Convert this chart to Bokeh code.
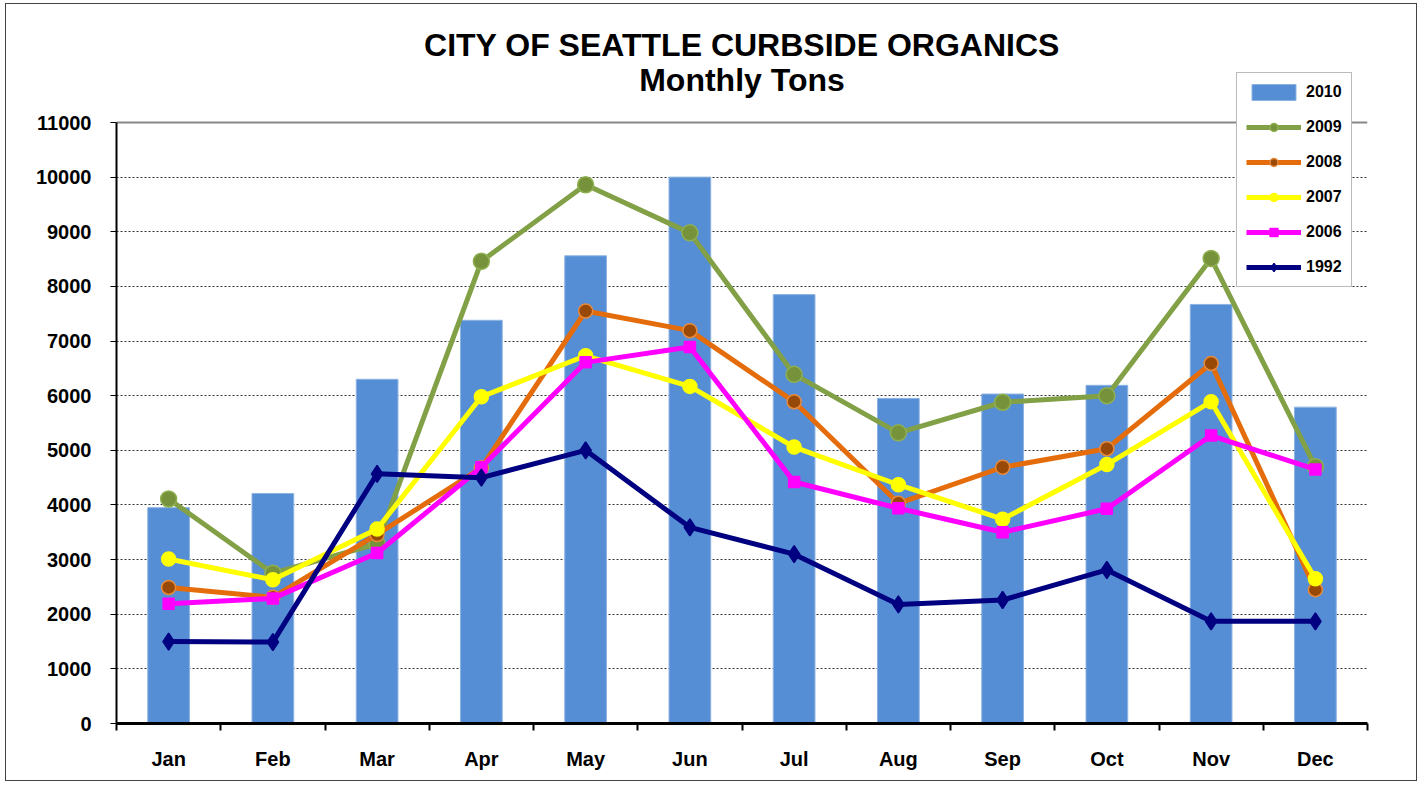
from bokeh.plotting import figure
from bokeh.models import (Range1d, FixedTicker, Legend, LegendItem, ColumnDataSource,
                          Grid, Label)
from bokeh.embed import file_html
from bokeh.resources import INLINE

months = ["Jan", "Feb", "Mar", "Apr", "May", "Jun", "Jul", "Aug", "Sep", "Oct", "Nov", "Dec"]
tons_2010 = [3950, 4210, 6300, 7380, 8560, 10000, 7850, 5950, 6030, 6190, 7670, 5790]
tons_2009 = [4110, 2750, 3290, 8460, 9860, 8980, 6390, 5320, 5880, 6000, 8510, 4700]
tons_2008 = [2490, 2310, 3460, 4680, 7550, 7190, 5890, 4030, 4690, 5030, 6590, 2450]
tons_2007 = [3010, 2630, 3560, 5980, 6730, 6170, 5060, 4370, 3740, 4740, 5890, 2650]
tons_2006 = [2190, 2290, 3120, 4690, 6610, 6890, 4420, 3940, 3500, 3930, 5270, 4650]
tons_1992 = [1500, 1490, 4570, 4500, 5000, 3590, 3100, 2180, 2260, 2810, 1870, 1870]
y_ticks = list(range(0, 11001, 1000))
y_max = 11000
title_lines = ["CITY OF SEATTLE CURBSIDE ORGANICS", "Monthly Tons"]

FONT = "Liberation Sans"
xpos = [i + 0.5 for i in range(len(months))]

# layout (pixels)
FRAME_W, FRAME_H, AXIS_H = 1251, 719, 601
y_end = y_max * FRAME_H / AXIS_H

p = figure(width=1412, height=778, output_backend="svg", toolbar_location=None,
           x_range=Range1d(0, 12), y_range=Range1d(0, y_end),
           min_border_left=110, min_border_right=51, min_border_top=0, min_border_bottom=59)
p.styles = {"border": "1px solid #444444", "margin": "3px 0px 0px 5px"}
p.outline_line_color = None

# x axis
p.xaxis.ticker = FixedTicker(ticks=xpos, minor_ticks=list(range(0, 13)))
p.xaxis.major_label_overrides = {x: m for x, m in zip(xpos, months)}
p.xaxis.major_tick_out = 0
p.xaxis.major_tick_in = 0
p.xaxis.minor_tick_out = 7
p.xaxis.minor_tick_in = 0
p.xaxis.minor_tick_line_color = "black"
p.xaxis.minor_tick_line_width = 2
p.xaxis.axis_line_color = "black"
p.xaxis.axis_line_width = 3
p.xaxis.major_label_standoff = 17

# y axis
p.yaxis.ticker = FixedTicker(ticks=y_ticks)
p.yaxis.bounds = (0, y_max)
p.yaxis.minor_tick_line_color = None
p.yaxis.major_tick_out = 6
p.yaxis.major_tick_in = 0
p.yaxis.major_tick_line_color = "black"
p.yaxis.major_tick_line_width = 1
p.yaxis.axis_line_color = "black"
p.yaxis.axis_line_width = 2
p.yaxis.major_label_standoff = 19

for ax in (p.xaxis, p.yaxis):
    ax.major_label_text_font = FONT
    ax.major_label_text_font_size = "20px"
    ax.major_label_text_font_style = "bold"
    ax.major_label_text_color = "black"

p.xgrid.grid_line_color = None
p.ygrid.ticker = FixedTicker(ticks=y_ticks[:-1])
p.ygrid.bounds = (0, 12)
p.ygrid.grid_line_color = "#333333"
p.ygrid.grid_line_width = 1
p.ygrid.grid_line_dash = "2 2"

# plot-area border (top and right)
p.add_layout(Grid(dimension=1, ticker=FixedTicker(ticks=[y_max]), bounds=(0, 12),
                  grid_line_color="#888888", grid_line_width=2))
p.add_layout(Grid(dimension=0, ticker=FixedTicker(ticks=[12]), bounds=(0, y_max),
                  grid_line_color="#888888", grid_line_width=3))

src = ColumnDataSource(dict(x=xpos, t2010=tons_2010, t2009=tons_2009, t2008=tons_2008,
                            t2007=tons_2007, t2006=tons_2006, t1992=tons_1992))

bars = p.vbar(x="x", top="t2010", width=0.4, source=src, fill_color="#558ED5",
              line_color="#8DB3E2", line_width=1)

series = [
    ("2009", "t2009", "#82A046", "circle", 16, "#76933C", "#8FB050"),
    ("2008", "t2008", "#E46C0A", "circle", 14, "#984807", "#E88A3C"),
    ("2007", "t2007", "#FFFF00", "circle", 14, "#FFFF00", "#FFFF00"),
    ("2006", "t2006", "#FF00FF", "square", 11, "#FF00FF", "#FF00FF"),
    ("1992", "t1992", "#000080", "diamond", 17, "#000080", "#000080"),
]

items = [LegendItem(label="2010", renderers=[bars])]
for label, col, color, marker, size, fill, outline in series:
    ln = p.line(x="x", y=col, source=src, line_color=color, line_width=5)
    sc = p.scatter(x="x", y=col, source=src, marker=marker, size=size,
                   fill_color=fill, line_color=outline, line_width=1.5)
    items.append(LegendItem(label=label, renderers=[ln, sc]))

legend = Legend(items=items, location=(1120, 436))
legend.label_text_font = FONT
legend.label_text_font_size = "16px"
legend.label_text_font_style = "bold"
legend.label_text_color = "black"
legend.glyph_width = 55
legend.glyph_height = 20
legend.label_height = 20
legend.spacing = 15
legend.padding = 9
legend.label_standoff = 5
legend.border_line_color = "#777777"
legend.border_line_width = 1
legend.background_fill_color = "white"
legend.background_fill_alpha = 1
p.add_layout(legend, "center")

# chart title (two lines, centred over the plot area)
for text, ys in zip(title_lines, [679, 644]):
    p.add_layout(Label(x=6, y=ys, x_units="data", y_units="screen", text=text,
                       text_align="center", text_baseline="middle", text_font=FONT,
                       text_font_size="32px", text_font_style="bold", text_color="black"))

open("out.html", "w").write(file_html(p, INLINE))
